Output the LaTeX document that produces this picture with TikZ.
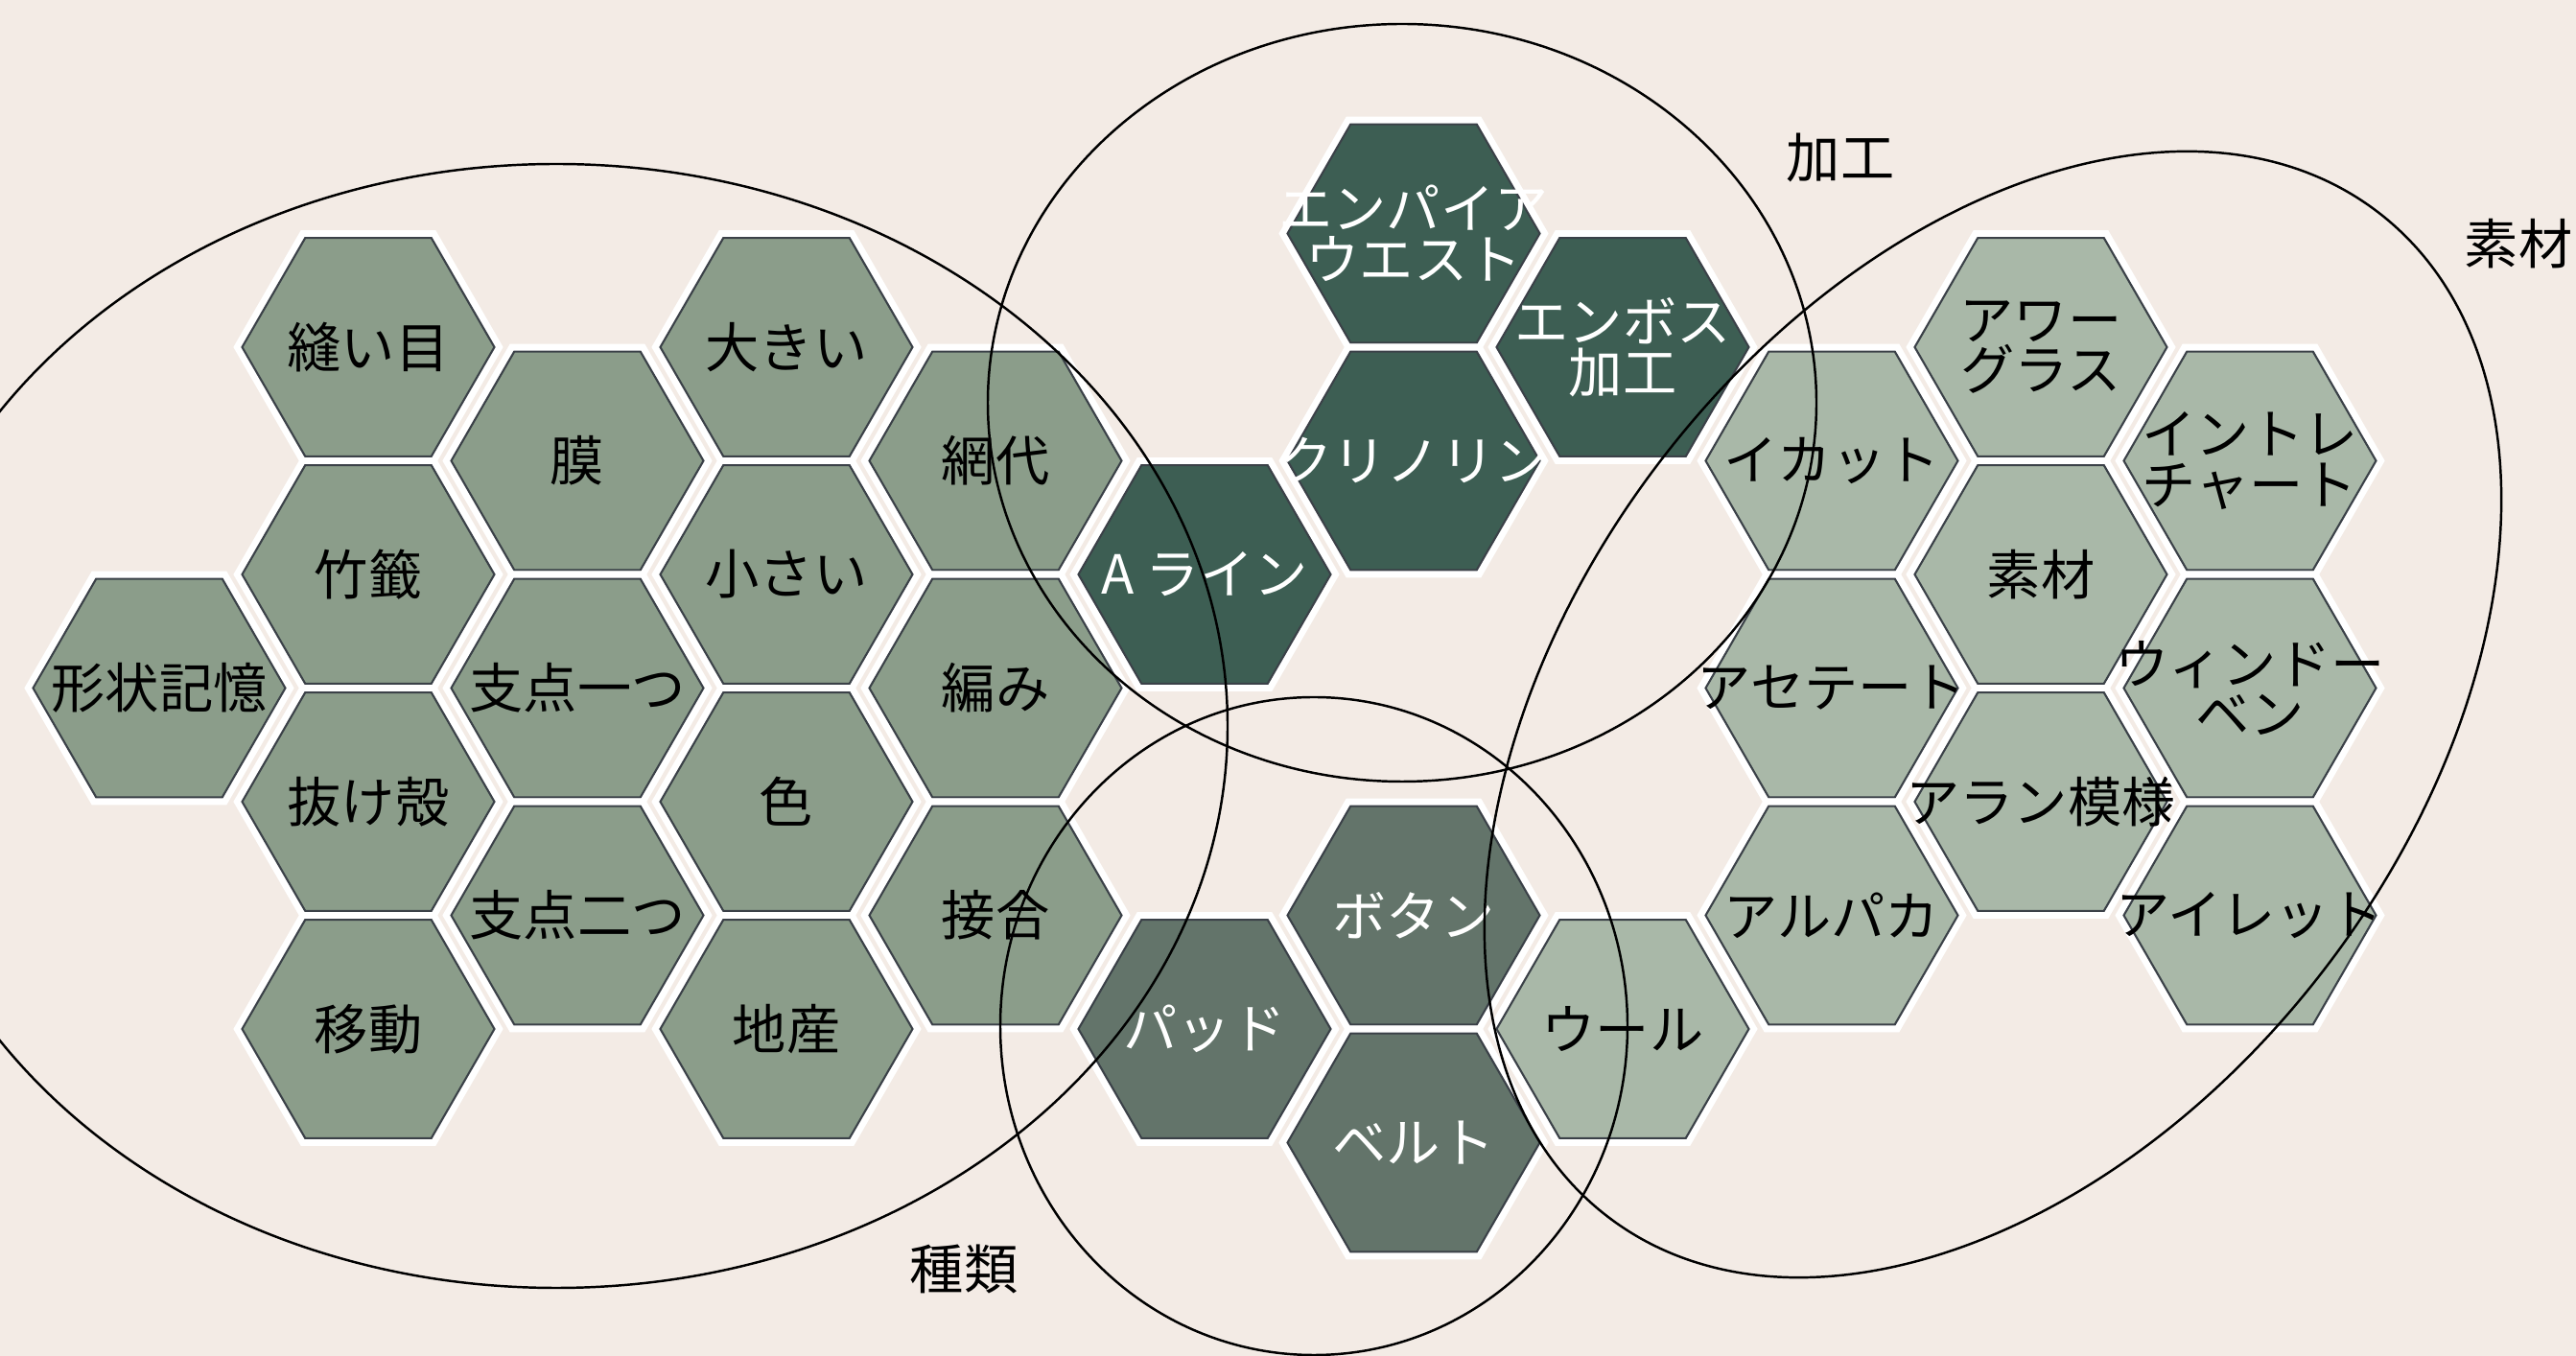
\documentclass[tikz,border=0pt]{standalone}
\usepackage{fontspec}
\setmainfont{Noto Sans CJK JP}
\usepackage{tikz}
\usetikzlibrary{positioning,shapes,backgrounds,calc}

\definecolor{paper}{HTML}{F3EBE5}
\definecolor{sage}{HTML}{8B9D8A}
\definecolor{pale}{HTML}{A9B8A8}
\definecolor{deepteal}{HTML}{3D5E53}
\definecolor{mossgrey}{HTML}{63746A}
\definecolor{hexline}{HTML}{3B4148}

\newcommand{\cellfont}{\fontsize{16pt}{15pt}\selectfont}

\tikzstyle{hexa} = [regular polygon, regular polygon sides=6, minimum size=2.63cm, %
   inner sep=0pt, draw=hexline, line width=0.6pt, preaction={draw=white, line width=4.5pt}]
\tikzstyle{hex0} = [hexa, fill=sage]
\tikzstyle{hex1} = [hexa, fill=pale]
\tikzstyle{hex2} = [hexa, fill=mossgrey]
\tikzstyle{hex3} = [hexa, fill=deepteal]
\tikzstyle{word} = [font=\cellfont, align=center, inner sep=0pt]
\tikzstyle{wordw} = [word, text=white]
\tikzstyle{tag} = [font=\cellfont, inner sep=0pt]
\tikzstyle{ring} = [draw, line width=0.7pt]

\begin{document}
\begin{tikzpicture}
   \useasboundingbox (0,0) rectangle (26.86,14.14);
   \clip (0,0) rectangle (26.86,14.14);
   \begin{scope}[on background layer]
      \fill[paper] (0,0) rectangle (26.86,14.14);
   \end{scope}

   % Left cluster %%%%%%%%%%%%%%%%%%%%%%%%%%%%%%%%%%%%%%%%%%%%%%%%%%%%%%%%%
   \node[hex0, label={[word]center:形状記憶}](memory) at (1.66,6.965){};

   \node[hex0, label={[word]center:縫い目}](seam) at (3.84,10.52){};
   \node[hex0, label={[word]center:竹籤}](bamboo) at (3.84,8.15){};
   \node[hex0, label={[word]center:抜け殻}](shell) at (3.84,5.78){};
   \node[hex0, label={[word]center:移動}](move) at (3.84,3.41){};

   \node[hex0, label={[word]center:膜}](film) at (6.02,9.335){};
   \node[hex0, label={[word]center:支点一つ}](pivotone) at (6.02,6.965){};
   \node[hex0, label={[word]center:支点二つ}](pivottwo) at (6.02,4.595){};

   \node[hex0, label={[word]center:大きい}](big) at (8.20,10.52){};
   \node[hex0, label={[word]center:小さい}](small) at (8.20,8.15){};
   \node[hex0, label={[word]center:色}](colour) at (8.20,5.78){};
   \node[hex0, label={[word]center:地産}](local) at (8.20,3.41){};

   \node[hex0, label={[word]center:網代}](wicker) at (10.38,9.335){};
   \node[hex0, label={[word]center:編み}](knit) at (10.38,6.965){};
   \node[hex0, label={[word]center:接合}](joint) at (10.38,4.595){};

   % Dark cells %%%%%%%%%%%%%%%%%%%%%%%%%%%%%%%%%%%%%%%%%%%%%%%%%%%%%%%%%%%
   \node[hex3, label={[wordw]center:A ライン}](aline) at (12.56,8.15){};
   \node[hex3, label={[wordw]center:{エンパイア\\ウエスト}}](empire) at (14.74,11.705){};
   \node[hex3, label={[wordw]center:クリノリン}](crinoline) at (14.74,9.335){};
   \node[hex3, label={[wordw]center:{エンボス\\加工}}](emboss) at (16.92,10.52){};

   \node[hex2, label={[wordw]center:パッド}](pad) at (12.56,3.41){};
   \node[hex2, label={[wordw]center:ボタン}](button) at (14.74,4.595){};
   \node[hex2, label={[wordw]center:ベルト}](belt) at (14.74,2.225){};

   % Right cluster %%%%%%%%%%%%%%%%%%%%%%%%%%%%%%%%%%%%%%%%%%%%%%%%%%%%%%%%
   \node[hex1, label={[word]center:ウール}](wool) at (16.92,3.41){};

   \node[hex1, label={[word]center:イカット}](ikat) at (19.10,9.335){};
   \node[hex1, label={[word]center:アセテート}](acetate) at (19.10,6.965){};
   \node[hex1, label={[word]center:アルパカ}](alpaca) at (19.10,4.595){};

   \node[hex1, label={[word]center:{アワー\\グラス}}](hourglass) at (21.28,10.52){};
   \node[hex1, label={[word]center:素材}](material) at (21.28,8.15){};
   \node[hex1, label={[word]center:アラン模様}](aran) at (21.28,5.78){};

   \node[hex1, label={[word]center:{イントレ\\チャート}}](intrecciato) at (23.46,9.335){};
   \node[hex1, label={[word]center:{ウィンドー\\ベン}}](windowpane) at (23.46,6.965){};
   \node[hex1, label={[word]center:アイレット}](eyelet) at (23.46,4.595){};

   % Groups
   \draw[ring] (5.80,6.57) ellipse (7.00cm and 5.86cm);
   \draw[ring] (14.62,9.94) ellipse (4.32cm and 3.95cm);
   \draw[ring] (13.70,3.44) ellipse (3.27cm and 3.43cm);
   \draw[ring, rotate around={52.5:(20.78,6.69)}] (20.78,6.69) ellipse (6.60cm and 4.36cm);

   \node[tag](kind) at (10.05,0.91){種類};
   \node[tag](process) at (19.19,12.49){加工};
   \node[tag](fabric) at (26.26,11.60){素材};
\end{tikzpicture}
\end{document}
